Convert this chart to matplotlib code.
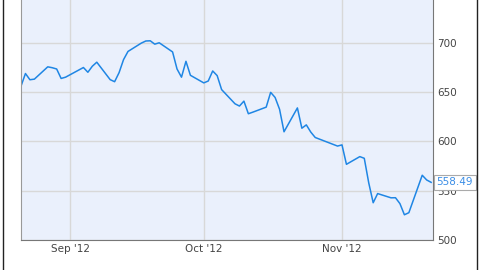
import matplotlib
matplotlib.use('Agg')
import matplotlib.pyplot as plt
from matplotlib.lines import Line2D
import pandas as pd

# daily closes
dates = ['2012-08-21', '2012-08-22', '2012-08-23', '2012-08-24', '2012-08-27',
         '2012-08-28', '2012-08-29', '2012-08-30', '2012-08-31', '2012-09-04',
         '2012-09-05', '2012-09-06', '2012-09-07', '2012-09-10', '2012-09-11',
         '2012-09-12', '2012-09-13', '2012-09-14', '2012-09-17', '2012-09-18',
         '2012-09-19', '2012-09-20', '2012-09-21', '2012-09-24', '2012-09-25',
         '2012-09-26', '2012-09-27', '2012-09-28', '2012-10-01', '2012-10-02',
         '2012-10-03', '2012-10-04', '2012-10-05', '2012-10-08', '2012-10-09',
         '2012-10-10', '2012-10-11', '2012-10-12', '2012-10-15', '2012-10-16',
         '2012-10-17', '2012-10-18', '2012-10-19', '2012-10-22', '2012-10-23',
         '2012-10-24', '2012-10-25', '2012-10-26', '2012-10-31', '2012-11-01',
         '2012-11-02', '2012-11-05', '2012-11-06', '2012-11-07', '2012-11-08',
         '2012-11-09', '2012-11-12', '2012-11-13', '2012-11-14', '2012-11-15',
         '2012-11-16', '2012-11-19', '2012-11-20', '2012-11-21']
closes = [656.1, 668.9, 662.6, 663.2, 675.7, 674.8, 673.5, 663.9, 665.2, 675.0,
          670.2, 676.3, 680.4, 662.7, 660.6, 669.8, 683.0, 691.3, 699.8, 701.9,
          702.1, 698.7, 700.1, 690.8, 673.5, 665.2, 681.3, 667.1, 659.4, 661.3,
          671.5, 666.8, 652.6, 638.2, 635.9, 640.9, 628.1, 629.7, 634.8, 649.8,
          644.6, 632.6, 609.8, 634.0, 613.4, 616.8, 609.5, 604.0, 595.3, 596.5,
          576.8, 584.6, 582.9, 558.0, 537.8, 547.1, 542.8, 542.9, 536.9, 525.6,
          527.7, 565.7, 560.9, 558.49]
y_ticks = [500, 550, 600, 650, 700]
x_ticks = ['2012-09-01', '2012-10-01', '2012-11-01']
x_labels = ["Sep '12", "Oct '12", "Nov '12"]

dates = pd.to_datetime(dates)

fig = plt.figure(figsize=(4.8, 2.7), dpi=100)
ax = fig.add_axes([21 / 480, 1 - 240 / 270, 412 / 480, 240 / 270])
ax.set_facecolor('#eaf0fc')

ax.plot(dates, closes, color='#1f86e4', linewidth=1.1)

ax.set_xlim(pd.Timestamp('2012-08-21'), pd.Timestamp('2012-11-21 10:00'))
ax.set_ylim(500, 743.5)
ax.set_yticks(y_ticks)
ax.set_xticks(pd.to_datetime(x_ticks))
ax.set_xticklabels(x_labels)
ax.yaxis.tick_right()
ax.tick_params(length=0, labelsize=7.5, labelcolor='#444444')
ax.tick_params(axis='y', pad=3)
ax.tick_params(axis='x', pad=3)
ax.grid(color='#d8d8d8', linewidth=1)
ax.set_axisbelow(True)

ax.spines['top'].set_visible(False)
ax.spines['left'].set_color('#999999')
ax.spines['bottom'].set_color('#777777')
ax.spines['right'].set_color('#777777')

# last value marker on the right axis
ax.annotate(f'{closes[-1]:.2f}', xy=(1, closes[-1]), xycoords=('axes fraction', 'data'),
            xytext=(2.5, 0), textcoords='offset points', va='center', ha='left',
            fontsize=7.5, color='#3a8de6',
            bbox=dict(boxstyle='square,pad=0.25', fc='white', ec='#aaaaaa', lw=0.8))

# outer frame lines
fig.add_artist(Line2D([2.5 / 480, 2.5 / 480], [0, 1], color='#222222', lw=1))
fig.add_artist(Line2D([476.5 / 480, 476.5 / 480], [0, 1], color='#222222', lw=1))

plt.savefig('out.png', dpi=100)
